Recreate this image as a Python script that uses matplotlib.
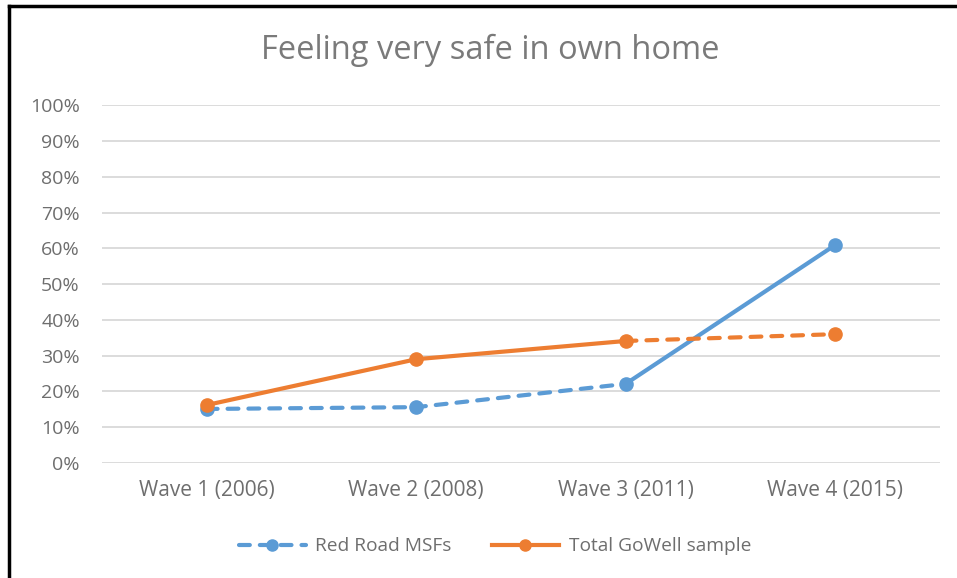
import numpy as np
import matplotlib.pyplot as plt
from matplotlib.lines import Line2D

# values (share feeling very safe)
waves = ["Wave 1 (2006)", "Wave 2 (2008)", "Wave 3 (2011)", "Wave 4 (2015)"]
red_road = [0.151, 0.156, 0.221, 0.609]
gowell = [0.162, 0.29, 0.341, 0.36]
yticks = [0.0, 0.1, 0.2, 0.3, 0.4, 0.5, 0.6, 0.7, 0.8, 0.9, 1.0]

blue = "#5B9BD5"
orange = "#ED7D31"
txt = "#6E6E6E"

plt.rcParams['font.family'] = ['Open Sans', 'DejaVu Sans']

fig = plt.figure(figsize=(9.57, 5.78), dpi=100)
ax = fig.add_axes([0.1066, 0.199, 0.8754, 0.619])

x = np.arange(len(waves))
dash = (0, (2.6, 2.4))
lw = 3
ms = 9.5

# blue series: dashed up to wave 3, solid to wave 4
ax.plot(x[:3], red_road[:3], color=blue, lw=lw, linestyle=dash, dash_capstyle='round')
ax.plot(x[2:], red_road[2:], color=blue, lw=lw, solid_capstyle='round')
ax.plot(x, red_road, color=blue, lw=0, marker='o', ms=ms)

# orange series: solid up to wave 3, dashed to wave 4
ax.plot(x[:3], gowell[:3], color=orange, lw=lw, solid_capstyle='round')
ax.plot(x[2:], gowell[2:], color=orange, lw=lw, linestyle=dash, dash_capstyle='round')
ax.plot(x, gowell, color=orange, lw=0, marker='o', ms=ms)

ax.set_xlim(-0.5, 3.5)
ax.set_ylim(0, 1.0)
ax.set_yticks(yticks)
ax.set_yticklabels([f"{int(round(v * 100))}%" for v in yticks])
ax.set_xticks(x)
ax.set_xticklabels(waves)
ax.grid(axis='y', color="#D9D9D9", lw=1.3)
ax.set_axisbelow(True)
for s in ax.spines.values():
    s.set_visible(False)
ax.tick_params(axis='y', length=0, labelsize=14, colors=txt, pad=16)
ax.tick_params(axis='x', length=0, labelsize=15, colors=txt, pad=12)

fig.text(0.512, 0.912, "Feeling very safe in own home", ha='center', va='center',
         fontsize=23.5, color="#7A7A7A")

handles = [
    Line2D([], [], color=blue, lw=lw, linestyle=dash, dash_capstyle='round',
           marker='o', ms=8),
    Line2D([], [], color=orange, lw=lw, marker='o', ms=8),
]
fig.legend(handles, ["Red Road MSFs", "Total GoWell sample"], loc='center',
           bbox_to_anchor=(0.517, 0.055), ncol=2, frameon=False, fontsize=13.8,
           labelcolor=txt, handlelength=3.5, handletextpad=0.5, columnspacing=2.1)

# black frame lines on top and left, like the cropped screenshot
fig.add_artist(Line2D([0.0095, 1.0], [0.9895, 0.9895], color='black', lw=2.5,
                      transform=fig.transFigure))
fig.add_artist(Line2D([0.0095, 0.0095], [0.0, 0.9895], color='black', lw=2.5,
                      transform=fig.transFigure))

fig.savefig("out.png", dpi=100)
